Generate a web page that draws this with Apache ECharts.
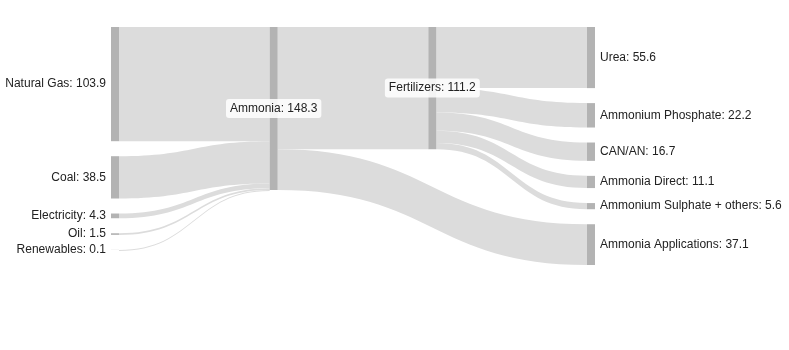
<!DOCTYPE html>
<html>
<head>
<meta charset="utf-8">
<script src="https://cdn.jsdelivr.net/npm/echarts@6/dist/echarts.min.js"></script>
<style>
html,body{margin:0;padding:0;background:#fff;}
#chart{width:789px;height:350px;}
</style>
</head>
<body>
<div id="chart"></div>
<script>
// Node names (in drawing order)
const nodeNames = [
  'Natural Gas', 'Coal', 'Electricity', 'Oil', 'Renewables',
  'Ammonia',
  'Fertilizers',
  'Urea', 'Ammonium Phosphate', 'CAN/AN', 'Ammonia Direct', 'Ammonium Sulphate + others',
  'Ammonia Applications'
];
// Flows
const linkSources = [
  'Natural Gas', 'Coal', 'Electricity', 'Oil', 'Renewables',
  'Ammonia', 'Ammonia',
  'Fertilizers', 'Fertilizers', 'Fertilizers', 'Fertilizers', 'Fertilizers'
];
const linkTargets = [
  'Ammonia', 'Ammonia', 'Ammonia', 'Ammonia', 'Ammonia',
  'Fertilizers', 'Ammonia Applications',
  'Urea', 'Ammonium Phosphate', 'CAN/AN', 'Ammonia Direct', 'Ammonium Sulphate + others'
];
const linkValues = [
  103.9, 38.5, 4.3, 1.5, 0.1,
  111.2, 37.1,
  55.6, 22.2, 16.7, 11.1, 5.6
];
const middleNodes = ['Ammonia', 'Fertilizers'];
const leftNodes = ['Natural Gas', 'Coal', 'Electricity', 'Oil', 'Renewables'];

// node totals = max(inflow, outflow)
const inSum = {}, outSum = {};
nodeNames.forEach(n => { inSum[n] = 0; outSum[n] = 0; });
linkValues.forEach((v, i) => { outSum[linkSources[i]] += v; inSum[linkTargets[i]] += v; });
const nodeTotal = n => Math.max(inSum[n], outSum[n]);

const baseFont = { fontFamily: 'Liberation Sans, Arial, sans-serif', fontSize: 12, color: '#222' };

const nodes = nodeNames.map(n => {
  const item = { name: n };
  if (middleNodes.includes(n)) {
    item.label = Object.assign({}, baseFont, {
      position: 'inside',
      backgroundColor: 'rgba(255,255,255,0.85)',
      borderRadius: 3,
      padding: [4, 4, 3, 4]
    });
  } else if (leftNodes.includes(n)) {
    item.label = { position: 'left' };
  } else {
    item.label = { position: 'right' };
  }
  return item;
});

const links = linkValues.map((v, i) => ({ source: linkSources[i], target: linkTargets[i], value: v }));

const chart = echarts.init(document.getElementById('chart'), null, { renderer: 'canvas' });
chart.setOption({
  backgroundColor: '#ffffff',
  animation: false,
  series: [{
    type: 'sankey',
    left: 111,
    right: 194,
    top: 27,
    height: 238,
    nodeWidth: 8,
    nodeGap: 15,
    nodeAlign: 'justify',
    layoutIterations: 0,
    draggable: false,
    emphasis: { disabled: true },
    data: nodes,
    links: links,
    itemStyle: { color: '#b3b3b3', borderWidth: 0 },
    lineStyle: { color: '#dcdcdc', opacity: 1, curveness: 0.5 },
    label: Object.assign({}, baseFont, {
      distance: 5,
      formatter: p => p.name + ': ' + nodeTotal(p.name).toFixed(1)
    })
  }]
});
</script>
</body>
</html>
